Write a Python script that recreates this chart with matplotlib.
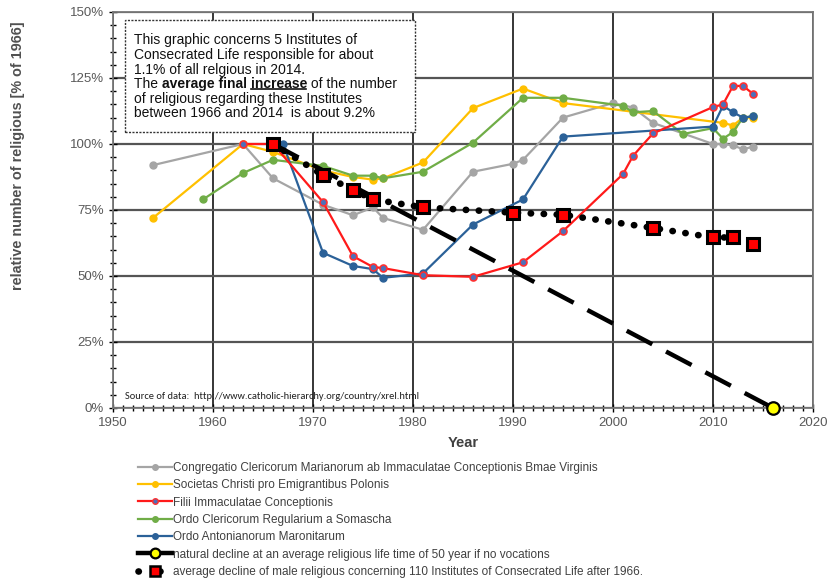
import numpy as np
import matplotlib
matplotlib.use("Agg")
import matplotlib.pyplot as plt
from matplotlib.ticker import MultipleLocator, FuncFormatter
from matplotlib.lines import Line2D
from matplotlib.patches import Rectangle

plt.rcParams['font.family'] = ['Liberation Sans', 'DejaVu Sans']

# data (percent of 1966)
gray_years = [1954, 1963, 1966, 1971, 1974, 1976, 1977, 1981, 1986, 1990, 1991, 1995, 2000, 2002, 2004, 2010, 2011, 2012, 2013, 2014]
gray_vals = [92, 100, 87, 77, 73, 76, 72, 67.5, 89.5, 92.5, 94, 110, 115.5, 113.8, 108, 100, 100, 99.5, 98, 99]

yellow_years = [1954, 1963, 1966, 1971, 1974, 1976, 1977, 1981, 1986, 1991, 1995, 2011, 2012, 2013, 2014]
yellow_vals = [72, 100, 97, 90, 87.5, 86.5, 87, 93, 113.6, 121, 115.5, 108, 107, 110, 110]

red_years = [1963, 1966, 1971, 1974, 1976, 1977, 1981, 1986, 1991, 1995, 2001, 2002, 2004, 2010, 2011, 2012, 2013, 2014]
red_vals = [100, 100, 78, 57.5, 53.4, 53, 50.3, 49.7, 55.2, 67, 88.6, 95.5, 104, 114, 115, 122, 122, 119]

green_years = [1959, 1963, 1966, 1971, 1974, 1976, 1977, 1981, 1986, 1991, 1995, 2001, 2002, 2004, 2007, 2010, 2011, 2012, 2013, 2014]
green_vals = [79, 89, 94, 91.7, 88, 88, 87, 89.5, 100.5, 117.5, 117.5, 114.5, 112, 112.5, 103.8, 106, 102, 104.5, 110, 110.5]

blue_years = [1967, 1971, 1974, 1976, 1977, 1981, 1986, 1991, 1995, 2010, 2011, 2012, 2013, 2014]
blue_vals = [100, 58.8, 53.8, 52.6, 49.3, 51, 69.5, 79, 102.8, 106.6, 114.5, 112, 110, 110.5]

natural_years = [1966, 2016]
natural_vals = [100, 0]

avg_years = [1966, 1971, 1974, 1976, 1981, 1990, 1995, 2004, 2010, 2012, 2014]
avg_vals = [100, 88.2, 82.6, 79, 76, 74, 73.2, 68.2, 64.6, 64.6, 62]

labels = [
    "Congregatio Clericorum Marianorum ab Immaculatae Conceptionis Bmae Virginis",
    "Societas Christi pro Emigrantibus Polonis",
    "Filii Immaculatae Conceptionis",
    "Ordo Clericorum Regularium a Somascha",
    "Ordo Antonianorum Maronitarum",
    "natural decline at an average religious life time of 50 year if no vocations",
    "average decline of male religious concerning 110 Institutes of Consecrated Life after 1966.",
]

fig = plt.figure(figsize=(8.29, 5.79), dpi=100)
ax = fig.add_axes([113/829, 1-408/579, 700/829, 396/579])

ax.plot(gray_years, gray_vals, color='#A5A5A5', lw=1.6, marker='o', ms=5, zorder=3, label=labels[0])
ax.plot(yellow_years, yellow_vals, color='#FFC000', lw=1.6, marker='o', ms=5, zorder=3, label=labels[1])
ax.plot(green_years, green_vals, color='#70AD47', lw=1.6, marker='o', ms=5, zorder=3, label=labels[3])
ax.plot(blue_years, blue_vals, color='#2B6198', lw=1.6, marker='o', ms=5, zorder=3, label=labels[4])
ax.plot(red_years, red_vals, color='#FF1A1A', lw=1.6, marker='o', ms=5, mfc='#4F6FB8', mec='#FF3030',
        mew=1.2, zorder=3.5, label=labels[2])

DOTS = (0.05, 1.9)
ax.plot(natural_years, natural_vals, color='black', lw=3.2, dashes=(6.5, 3.5), zorder=5)
ax.plot(natural_years[-1], natural_vals[-1], 'o', ms=9, mfc='#FFFF00', mec='black', mew=1.6, zorder=6, clip_on=False)
ax.plot(avg_years[:-1], avg_vals[:-1], color='black', lw=4.8, dashes=DOTS, dash_capstyle='round', zorder=5)
ax.plot(avg_years, avg_vals, 's', ms=9, mfc='#FF0000', mec='black', mew=2.2, zorder=6)

ax.set_xlim(1950, 2020)
ax.set_ylim(0, 150)
ax.xaxis.set_major_locator(MultipleLocator(10))
ax.xaxis.set_minor_locator(MultipleLocator(1))
ax.yaxis.set_major_locator(MultipleLocator(25))
ax.yaxis.set_minor_locator(MultipleLocator(5))
ax.yaxis.set_major_formatter(FuncFormatter(lambda v, p: "%d%%" % v))
ax.tick_params(which='both', direction='inout', color='black', width=1)
ax.tick_params(which='major', length=6, labelsize=9.5, labelcolor='#595959')
ax.tick_params(which='minor', length=5)
ax.grid(axis='x', which='major', color='black', lw=1.1)
ax.grid(axis='y', which='major', color='#555555', lw=1.6)
ax.set_axisbelow(True)
for s in ax.spines.values():
    s.set_color('#777777')
    s.set_linewidth(1.3)

ax.set_xlabel("Year", fontsize=10.5, fontweight='bold', color='#404040', labelpad=5)
fig.text(18/829, 1-156/579, "relative number of religious [% of 1966]", rotation=90, fontsize=10.4,
         fontweight='bold', color='#505050', ha='center', va='center')

ax.text(1951.2, 3.5, "Source of data:  http://www.catholic-hierarchy.org/country/xrel.html",
        fontsize=7.5, color='#202020', family=['Carlito', 'DejaVu Sans Condensed', 'DejaVu Sans'])

# note box
fig.patches.append(Rectangle((125/829, 1-132/579), 290/829, 112/579, transform=fig.transFigure,
                             fill=True, fc='white', ec='#333333', lw=1, ls=(0, (1.5, 1)), zorder=7))
box_lines = ["This graphic concerns 5 Institutes of",
             "Consecrated Life responsible for about",
             "1.1% of all relgious in 2014.",
             None,
             "of religious regarding these Institutes",
             "between 1966 and 2014  is about 9.2%"]
ys = [40, 55, 70, 84, 99, 113]
fs = 10
for t, y in zip(box_lines, ys):
    if t is not None:
        fig.text(134/829, 1-y/579, t, fontsize=fs, va='center', color='#111111', zorder=8)
t1 = fig.text(134/829, 1-ys[3]/579, "The ", fontsize=fs, va='center', color='#111111', zorder=8)
t2 = fig.add_artist(plt.Annotation("average final ", xy=(1, 0), xycoords=t1, va='bottom',
                                   fontsize=fs, fontweight='bold', color='#111111', zorder=8))
t3 = fig.add_artist(plt.Annotation("increase", xy=(1, 0), xycoords=t2, va='bottom',
                                   fontsize=fs, fontweight='bold', color='#111111', zorder=8))
t4 = fig.add_artist(plt.Annotation(" of the number", xy=(1, 0), xycoords=t3, va='bottom',
                                   fontsize=fs, color='#111111', zorder=8))
fig.canvas.draw()
bb = t3.get_window_extent()
ul = Line2D([bb.x0, bb.x1 - 1], [bb.y0 + 2.5, bb.y0 + 2.5], transform=None, color='#111111', lw=1.2, zorder=9)
fig.add_artist(ul)

handles = [
    Line2D([], [], color='#A5A5A5', lw=1.6, marker='o', ms=4),
    Line2D([], [], color='#FFC000', lw=1.6, marker='o', ms=4),
    Line2D([], [], color='#FF1A1A', lw=1.6, marker='o', ms=4, mfc='#4F6FB8', mec='#FF3030'),
    Line2D([], [], color='#70AD47', lw=1.6, marker='o', ms=4),
    Line2D([], [], color='#2B6198', lw=1.6, marker='o', ms=4),
    Line2D([], [], color='black', lw=3.2, marker='o', ms=7, mfc='#FFFF00', mec='black', mew=1.6),
    Line2D([], [], color='black', lw=4.8, dashes=(0.05, 3.2), dash_capstyle='round', marker='s', ms=7,
           mfc='#FF0000', mec='black', mew=1.8),
]
fig.legend(handles, labels, loc='upper left', bbox_to_anchor=(138/829, 1-462/579), frameon=False,
           fontsize=8.5, labelcolor='#404040', handlelength=2.9, handletextpad=0.05,
           labelspacing=0.45, borderaxespad=0, borderpad=0)

fig.savefig("out.png", dpi=100)
